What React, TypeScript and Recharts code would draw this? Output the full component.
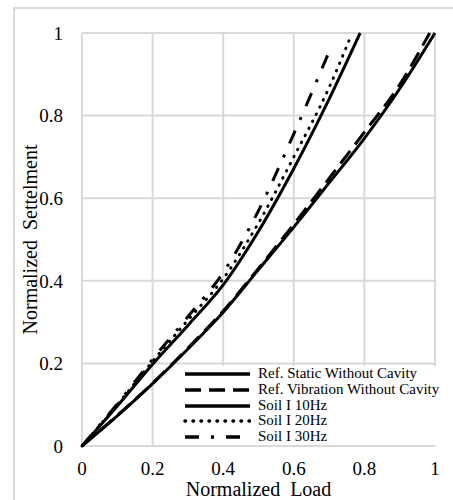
import React from "react";
import { LineChart, Line, XAxis, YAxis, CartesianGrid, Label } from "recharts";

// Normalized load (x) and normalized settlement (y)
const staticX = [0, 0.1, 0.2, 0.3, 0.4, 0.5, 0.6, 0.7, 0.8, 0.9, 1.0];
const staticY = [0, 0.073, 0.151, 0.235, 0.324, 0.427, 0.53, 0.637, 0.745, 0.865, 1.0];

const vibX = [0, 0.1, 0.2, 0.3, 0.4, 0.5, 0.6, 0.7, 0.8, 0.9, 0.985];
const vibY = [0, 0.074, 0.152, 0.237, 0.327, 0.43, 0.537, 0.648, 0.76, 0.875, 1.0];

const hz10X = [0, 0.1, 0.2, 0.3, 0.4, 0.5, 0.6, 0.7, 0.788];
const hz10Y = [0, 0.097, 0.198, 0.292, 0.39, 0.52, 0.672, 0.84, 1.0];

const hz20X = [0, 0.1, 0.2, 0.3, 0.4, 0.5, 0.6, 0.7, 0.759];
const hz20Y = [0, 0.1, 0.205, 0.305, 0.405, 0.54, 0.7, 0.868, 0.987];

const hz30X = [0, 0.1, 0.2, 0.3, 0.4, 0.5, 0.6, 0.65, 0.708];
const hz30Y = [0, 0.102, 0.21, 0.313, 0.42, 0.57, 0.756, 0.854, 0.971];

const seriesNames = [
  "Ref. Static Without Cavity",
  "Ref. Vibration Without Cavity",
  "Soil I 10Hz",
  "Soil I 20Hz",
  "Soil I 30Hz",
];

const xTicks = [0, 0.2, 0.4, 0.6, 0.8, 1];
const yTicks = [0, 0.2, 0.4, 0.6, 0.8, 1];
const xTickLabels = ["0", "0.2", "0.4", "0.6", "0.8", "1"];
const yTickLabels = ["0", "0.2", "0.4", "0.6", "0.8", "1"];

const xTitle = "Normalized\u00a0\u00a0Load";
const yTitle = "Normalized\u00a0\u00a0Settelment";

const zip = (xs: number[], ys: number[]) => xs.map((x, i) => ({ x, y: ys[i] }));

const styles = [
  { dash: undefined as string | undefined, cap: "butt" },
  { dash: "16 8", cap: "butt" },
  { dash: undefined as string | undefined, cap: "butt" },
  { dash: "0.5 7.5", cap: "round" },
  { dash: "14 12 3 12", cap: "butt" },
];

const seriesData = [
  zip(staticX, staticY),
  zip(vibX, vibY),
  zip(hz10X, hz10Y),
  zip(hz20X, hz20Y),
  zip(hz30X, hz30Y),
];

const FONT = "Liberation Serif, Tinos, Times New Roman, Times, DejaVu Serif, serif";

export default function App() {
  return (
    <div
      style={{
        position: "fixed",
        left: 0,
        top: 0,
        width: 453,
        height: 500,
        background: "#fff",
        overflow: "hidden",
        fontFamily: FONT,
      }}
    >
      <div
        style={{
          position: "absolute",
          left: 13,
          top: 7,
          width: 460,
          height: 520,
          borderLeft: "2px solid #d9d9d9",
          borderTop: "2px solid #d9d9d9",
        }}
      />
      <div style={{ position: "absolute", left: 0, top: 0, fontFamily: FONT }}>
        <LineChart
          width={453}
          height={500}
          margin={{ top: 33, right: 18, left: 0, bottom: 0 }}
          style={{ fontFamily: FONT }}
        >
          <CartesianGrid stroke="#d9d9d9" strokeWidth={2} />
          <XAxis
            dataKey="x"
            type="number"
            domain={[0, 1]}
            ticks={xTicks}
            tickFormatter={(v: number) => xTickLabels[xTicks.indexOf(v)] ?? String(v)}
            axisLine={false}
            tickLine={false}
            tickSize={0}
            tickMargin={16}
            height={54}
            tick={{ fontSize: 19, fill: "#000", fontFamily: FONT }}
            interval={0}
          >
            <Label
              value={xTitle}
              position="insideBottom"
              offset={4}
              fontFamily={FONT}
              style={{ fontSize: 20, fill: "#000", fontFamily: FONT }}
            />
          </XAxis>
          <YAxis
            dataKey="y"
            type="number"
            domain={[0, 1]}
            ticks={yTicks}
            tickFormatter={(v: number) => yTickLabels[yTicks.indexOf(v)] ?? String(v)}
            axisLine={false}
            tickLine={false}
            tickSize={0}
            tickMargin={19}
            width={82}
            tick={{ fontSize: 19, fill: "#000", fontFamily: FONT }}
            interval={0}
          >
            <Label
              content={(props: any) => {
                const vb = props.viewBox || { x: 0, y: 33, width: 82, height: 413 };
                const cx = vb.x + 30;
                const cy = vb.y + vb.height / 2;
                return (
                  <text
                    x={cx}
                    y={cy}
                    transform={`rotate(-90 ${cx} ${cy})`}
                    textAnchor="middle"
                    dominantBaseline="central"
                    fontFamily={FONT}
                    style={{ fontSize: 20, fill: "#000", fontFamily: FONT }}
                  >
                    {yTitle}
                  </text>
                );
              }}
            />
          </YAxis>
          {seriesData.map((d, i) => (
            <Line
              key={seriesNames[i]}
              data={d}
              dataKey="y"
              name={seriesNames[i]}
              type="monotone"
              stroke="#000"
              strokeWidth={3}
              strokeDasharray={styles[i].dash}
              strokeLinecap={styles[i].cap as any}
              dot={false}
              activeDot={false}
              isAnimationActive={false}
            />
          ))}
        </LineChart>
      </div>
      <div
        style={{
          position: "absolute",
          left: 180,
          top: 366,
          width: 267,
          height: 79,
          background: "#fff",
          fontFamily: FONT,
          fontSize: 15,
          color: "#000",
        }}
      >
        {seriesNames.map((name, i) => (
          <div
            key={name}
            style={{ height: 15.8, lineHeight: "15.8px", display: "flex", alignItems: "center", whiteSpace: "nowrap" }}
          >
            <svg width={78} height={16} style={{ display: "block", flex: "none" }}>
              <line
                x1={5}
                y1={8}
                x2={70}
                y2={8}
                stroke="#000"
                strokeWidth={3.5}
                strokeDasharray={styles[i].dash}
                strokeLinecap={styles[i].cap as any}
              />
            </svg>
            <span style={{ fontFamily: FONT }}>{name}</span>
          </div>
        ))}
      </div>
    </div>
  );
}
